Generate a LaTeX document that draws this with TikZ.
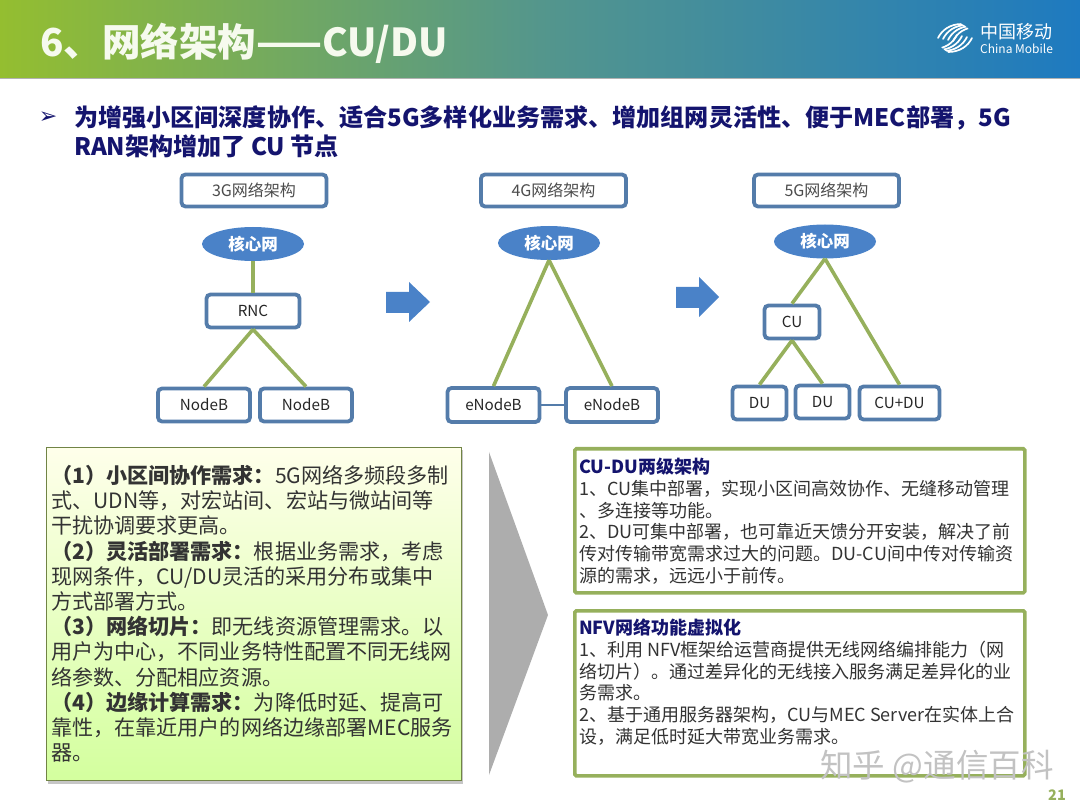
\documentclass[tikz,border=0pt]{standalone}
\usepackage{fontspec}
\setmainfont{Noto Sans CJK SC}
\newfontfamily\symfont{DejaVu Sans}
\usetikzlibrary{positioning,shapes.geometric,shadows}
\definecolor{boxblue}{RGB}{84,124,170}
\definecolor{coreblue}{RGB}{74,130,200}
\definecolor{linkgreen}{RGB}{150,176,92}
\definecolor{navy}{RGB}{20,20,110}
\definecolor{barleft}{RGB}{148,190,48}
\definecolor{barmid}{RGB}{84,150,140}
\definecolor{barright}{RGB}{30,122,192}
\tikzset{
  netbox/.style={draw=boxblue,line width=3.8pt,fill=white,rounded corners=4pt,align=center,inner sep=0pt,font=\fontsize{15.2}{17}\selectfont,text=black!85},
  titlebox/.style={netbox,minimum width=145pt,minimum height=32pt,text=black!70,font=\fontsize{16}{18}\selectfont},
  corenode/.style={ellipse,fill=coreblue,minimum width=102pt,minimum height=34pt,inner sep=0pt,text=white,font=\bfseries\fontsize{16.5}{18}\selectfont},
  link/.style={draw=linkgreen,line width=3.6pt},
  bigarrow/.style={fill=coreblue},
  notebox/.style={draw=linkgreen,line width=3.6pt,fill=white,rounded corners=1.5pt},
  notetext/.style={anchor=north west,align=left,inner sep=0pt,text=black!80,font=\fontsize{18}{21.7}\selectfont},
}
\begin{document}
\begin{tikzpicture}[x=1pt,y=-1pt]
\useasboundingbox (0,0) rectangle (1080,810);
% title bar
\shade[left color=barleft,right color=barright,middle color=barmid] (0,1) rectangle (1080,78);
\draw[black!30,line width=0.8pt] (0,78.5) -- (1080,78.5);
\node[anchor=west,inner sep=0pt,text=white!92!barleft,font=\bfseries\fontsize{38.5}{42}\selectfont] (title) at (40,43) {6、网络架构——CU/DU};
% logo
\begin{scope}[white,line width=1.7pt,line cap=round]
\clip (955,21) .. controls (965,24) and (973,31) .. (973,38) .. controls (973,45) and (965,52) .. (955,56) .. controls (945,52) and (937,45) .. (937,38) .. controls (937,31) and (945,24) .. (955,21) -- cycle;
\foreach \off in {0,5,10,15}{
  \draw (938+\off,38+\off*0.2) .. controls (942+\off,30+\off*0.2) and (950+\off,24+\off*0.2) .. (962+\off,24+\off*0.2);
  \draw (972-\off,38-\off*0.2) .. controls (968-\off,46-\off*0.2) and (960-\off,52-\off*0.2) .. (948-\off,52-\off*0.2);
}
\end{scope}
\node[anchor=west,inner sep=0pt,text=white,font=\fontsize{18}{20}\selectfont] (logocn) at (980,32) {中国移动};
\node[anchor=west,inner sep=0pt,text=white,font=\fontsize{12}{14}\selectfont] (logoen) at (980,49) {China Mobile};
% headline
\node[inner sep=0pt,text=navy,font=\symfont\fontsize{22}{24}\selectfont] (bullet) at (48,118) {➢};
\node[anchor=north west,align=left,inner sep=0pt,text=navy,font=\bfseries\fontsize{24.1}{29}\selectfont] (headline) at (74,105) {为增强小区间深度协作、适合5G多样化业务需求、增加组网灵活性、便于MEC部署，5G\\RAN架构增加了 CU 节点};
% 3G
\node[titlebox] (title3g) at (254,190.5) {3G网络架构};
\node[corenode] (core3g) at (253,244) {核心网};
\node[netbox,minimum width=93pt,minimum height=33pt] (rnc) at (253,311) {RNC};
\node[netbox,minimum width=92pt,minimum height=33pt] (nodeba) at (204,405) {NodeB};
\node[netbox,minimum width=92pt,minimum height=33pt] (nodebb) at (306,405) {NodeB};
\draw[link] (core3g) -- (rnc);
\draw[link] (rnc.south) -- (nodeba.north);
\draw[link] (rnc.south) -- (nodebb.north);
\fill[bigarrow] (386,292) -- (409,292) -- (409,282) -- (430,302) -- (409,322) -- (409,313) -- (386,313) -- cycle;
% 4G
\node[titlebox] (title4g) at (553.5,190.5) {4G网络架构};
\node[corenode] (core4g) at (549,243) {核心网};
\node[netbox,minimum width=92pt,minimum height=34pt] (enba) at (493.5,405) {eNodeB};
\node[netbox,minimum width=92pt,minimum height=34pt] (enbb) at (612,405) {eNodeB};
\draw[link] (core4g.south) -- (enba.north);
\draw[link] (core4g.south) -- (enbb.north);
\draw[draw=boxblue,line width=2.4pt] (enba) -- (enbb);
\fill[bigarrow] (676,287) -- (699,287) -- (699,277) -- (719,297) -- (699,317) -- (699,308) -- (676,308) -- cycle;
% 5G
\node[titlebox] (title5g) at (826.5,190.5) {5G网络架构};
\node[corenode] (core5g) at (825,241.5) {核心网};
\node[netbox,minimum width=55pt,minimum height=33pt] (cu) at (792,322) {CU};
\node[netbox,minimum width=54pt,minimum height=33pt] (dua) at (759.5,403) {DU};
\node[netbox,minimum width=54pt,minimum height=33pt] (dub) at (822.5,402) {DU};
\node[netbox,minimum width=80pt,minimum height=33pt] (cudu) at (899.5,403) {CU+DU};
\draw[link] (core5g.south) -- (cu.north);
\draw[link] (core5g.south) -- (cudu.north);
\draw[link] (cu.south) -- (dua.north);
\draw[link] (cu.south) -- (dub.north);
% left panel
\node[anchor=north west,draw=black!25!linkgreen,line width=1pt,top color=green!3!yellow!8!white,bottom color=green!45!yellow!38!white,drop shadow={opacity=0.45,shadow xshift=1pt,shadow yshift=-3pt},minimum width=415pt,minimum height=333pt] (needs) at (46,447) {};
\node[anchor=north west,align=left,inner sep=0pt,text=black!80,font=\fontsize{21.1}{25.2}\selectfont] (needstext) at (51,465) {
{\bfseries （1）小区间协作需求：}5G网络多频段多制\\
式、UDN等，对宏站间、宏站与微站间等\\
干扰协调要求更高。\\
{\bfseries （2）灵活部署需求：}根据业务需求，考虑\\
现网条件，CU/DU灵活的采用分布或集中\\
方式部署方式。\\
{\bfseries （3）网络切片：}即无线资源管理需求。以\\
用户为中心，不同业务特性配置不同无线网\\
络参数、分配相应资源。\\
{\bfseries （4）边缘计算需求：}为降低时延、提高可\\
靠性，在靠近用户的网络边缘部署MEC服务\\
器。};
% chevron
\fill[black!32] (489,452) -- (548,615) -- (489,775) -- cycle;
% right panels
\node[notebox,anchor=north west,minimum width=450pt,minimum height=144pt] (cubox) at (573,447) {};
\node[notetext] (cutext) at (579,458) {{\bfseries\color{navy}CU-DU两级架构}\\
1、CU集中部署，实现小区间高效协作、无缝移动管理\\
、多连接等功能。\\
2、DU可集中部署，也可靠近天馈分开安装，解决了前\\
传对传输带宽需求过大的问题。DU-CU间中传对传输资\\
源的需求，远远小于前传。};
\node[notebox,anchor=north west,minimum width=450pt,minimum height=165pt] (nfvbox) at (573,609) {};
\node[notetext] (nfvtext) at (579,619) {{\bfseries\color{navy}NFV网络功能虚拟化}\\
1、利用 NFV框架给运营商提供无线网络编排能力（网\\
络切片）。通过差异化的无线接入服务满足差异化的业\\
务需求。\\
2、基于通用服务器架构，CU与MEC Server在实体上合\\
设，满足低时延大带宽业务需求。};
% watermark and page number
\node[inner sep=0pt,text=black!24,font=\fontsize{32.5}{35}\selectfont] (mark) at (937,767) {知乎 @通信百科};
\node[inner sep=0pt,text=linkgreen,font=\bfseries\fontsize{14.5}{17}\selectfont] (pagenum) at (1057,795) {21};
\end{tikzpicture}
\end{document}
